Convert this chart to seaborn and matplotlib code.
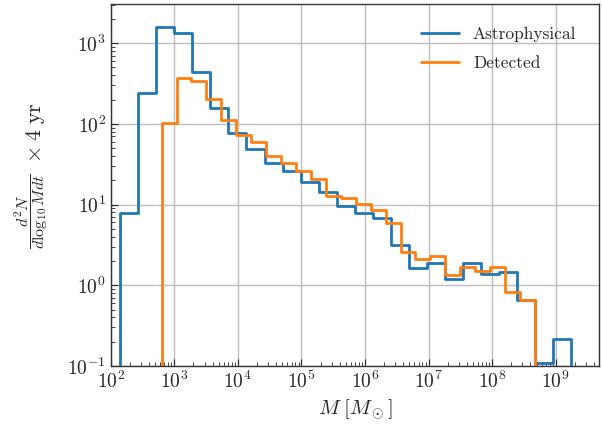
import numpy as np
import pandas as pd
import seaborn as sns
import matplotlib
matplotlib.use("Agg")
import matplotlib.pyplot as plt

# ------------------ data ------------------

# log10 of the first and last bin edge, 25 log-spaced bins each
astro_range = (2.15, 9.24)
det_range = (2.80, 8.674)
n_bins = 25

astro_counts = [7.9, 244, 1590, 1340, 441, 156, 76.5, 49.4, 32.5, 25.9,
                18.8, 14.2, 9.7, 7.9, 6.9, 3.19, 1.64, 1.91, 1.20, 1.89,
                1.36, 1.44, 0.65, 0.110, 0.218]
det_counts = [103, 367, 344, 206, 113, 73.6, 59, 39.7, 32.9, 26.2,
              21, 12.7, 12.0, 10.1, 8.6, 5.87, 2.56, 2.14, 2.31, 1.35,
              1.69, 1.51, 1.66, 0.83, 0.65]

labels = ["Astrophysical", "Detected"]
colors = ["#1f77b4", "#ff7f0e"]


def bins_and_centers(lims, n):
    edges = np.logspace(lims[0], lims[1], n + 1)
    centers = np.sqrt(edges[:-1] * edges[1:])
    # one empty bin each side so the step drops to the axis
    ratio = edges[1] / edges[0]
    padded = np.concatenate([[edges[0] / ratio], edges, [edges[-1] * ratio]])
    return padded.tolist(), centers


# ------------------ plot ------------------

sns.set_style("ticks")
plt.rcParams["font.family"] = "serif"
plt.rcParams["font.serif"] = ["cmr10"]
plt.rcParams["mathtext.fontset"] = "cm"
plt.rcParams["axes.formatter.use_mathtext"] = True

fig, ax = plt.subplots(figsize=(6.02, 4.24), dpi=100)
fig.subplots_adjust(left=0.184, right=0.995, bottom=0.137, top=0.99)

for counts, lims, lab, col in zip([astro_counts, det_counts],
                                  [astro_range, det_range], labels, colors):
    bins, centers = bins_and_centers(lims, n_bins)
    df = pd.DataFrame({"mass": centers, "count": counts})
    sns.histplot(data=df, x="mass", weights="count", bins=bins, element="step",
                 fill=False, color=col, linewidth=2, label=lab, ax=ax)

ax.set_xscale("log")
ax.set_yscale("log")
ax.set_xlim(1e2, 4.8e9)
ax.set_ylim(1e-1, 3.04e3)

ax.grid(True, which="major", color="#bdbdbd", linewidth=1)
ax.tick_params(which="both", direction="in", labelsize=14)
ax.tick_params(which="major", length=5)
ax.tick_params(which="minor", length=3)
for s in ax.spines.values():
    s.set_linewidth(1)
    s.set_color("#333333")

ax.set_xlabel(r"$M\;[M_\odot]$", fontsize=15)

# y label: displayed fraction plus the "x 4 yr" factor next to it
ax.set_ylabel(r"$\dfrac{d^2N}{d\log_{10}M dt}$", fontsize=11.5)
ax.yaxis.set_label_coords(-0.125, 0.428)
ax.text(-0.143, 0.645, r"$\times\;4\;\mathrm{yr}$", transform=ax.transAxes,
        rotation=90, rotation_mode="anchor", ha="center", va="baseline",
        fontsize=16)

ax.legend(loc="upper right", frameon=False, fontsize=12.5, labelspacing=0.8,
          handlelength=2.2, borderaxespad=0.9)

fig.savefig("out.png", dpi=100)
